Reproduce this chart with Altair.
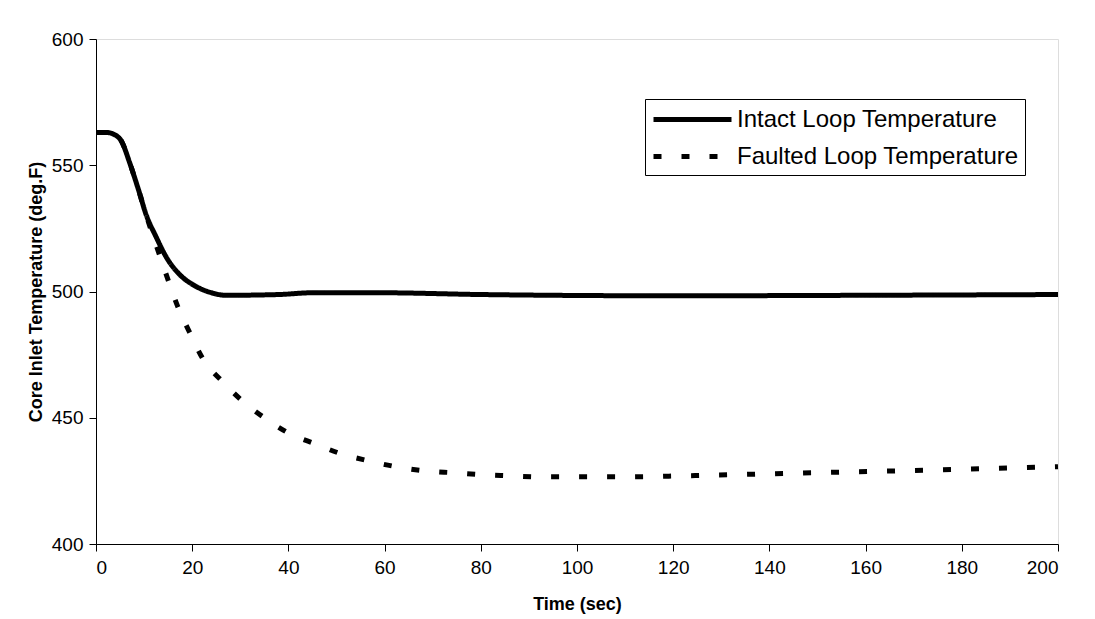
import altair as alt
import pandas as pd

# Intact loop (solid)
intact_time = [0, 2, 4, 5.3, 7, 8.8, 10.5, 12.4, 14.9, 17.4, 20.8, 24, 27, 38, 45, 59, 80, 120, 160, 200]
intact_temp = [563, 563, 562, 559.5, 551, 540.5, 530, 522, 512.7, 506.7, 502, 499.5, 498.5, 498.8, 499.5, 499.5, 498.8, 498.3, 498.5, 498.8]

# Faulted loop (dashed)
faulted_time = [0, 2, 4, 5.3, 7, 8.8, 10, 11.4, 13.2, 15, 17, 19.8, 22.2, 26.3, 30.4, 35, 40, 45.5, 51, 56.7,
                62.4, 68.3, 74.4, 80.4, 86, 92, 110, 122, 140, 158, 176, 200]
faulted_temp = [563, 563, 562, 559.5, 551, 540.5, 533, 524.6, 514.5, 504.5, 494, 482.5, 473.4, 464.3, 456.7, 450, 444, 439.7, 435.7, 432.9,
                430.6, 429, 428.2, 427.4, 427, 426.6, 426.6, 427, 427.8, 428.6, 429.4, 430.6]

series_names = ["Intact Loop Temperature", "Faulted Loop Temperature"]
x_ticks = [0, 20, 40, 60, 80, 100, 120, 140, 160, 180, 200]
y_ticks = [400, 450, 500, 550, 600]

rows = []
for t, v in zip(intact_time, intact_temp):
    rows.append({"time": t, "temp": v, "series": series_names[0]})
for t, v in zip(faulted_time, faulted_temp):
    rows.append({"time": t, "temp": v, "series": series_names[1]})
df = pd.DataFrame(rows)

FONT = "Liberation Sans"

axis_common = dict(grid=False, tickSize=7, labelFontSize=19, titleFontSize=18, titleFontWeight="bold",
                   domainColor="black", tickColor="black", labelColor="black", titleColor="black",
                   labelFont=FONT, titleFont=FONT)

chart = alt.Chart(df).mark_line(strokeWidth=5, color="black", interpolate="monotone").encode(
    x=alt.X("time:Q", scale=alt.Scale(domain=[0, 200], nice=False),
            axis=alt.Axis(values=x_ticks, title="Time (sec)", labelPadding=7, titlePadding=18, **axis_common)),
    y=alt.Y("temp:Q", scale=alt.Scale(domain=[400, 600], nice=False),
            axis=alt.Axis(values=y_ticks, title="Core Inlet Temperature (deg.F)", labelPadding=6,
                          titlePadding=6, **axis_common)),
    strokeDash=alt.StrokeDash("series:N",
                              scale=alt.Scale(domain=series_names, range=[[1, 0], [8, 20]]),
                              sort=series_names,
                              legend=alt.Legend(title=None, orient="none", legendX=549, legendY=60,
                                                symbolType="M-1,0H5.5", symbolSize=576, symbolStrokeWidth=5,
                                                symbolStrokeColor="black", labelFontSize=24, labelFont=FONT,
                                                labelColor="black", labelOffset=57, rowPadding=10,
                                                labelLimit=600,
                                                strokeColor="black", fillColor="white", padding=6,
                                                cornerRadius=0)),
    order=alt.Order("time:Q"),
).properties(
    width=962, height=505,
    autosize=alt.AutoSizeParams(type="none"),
    padding={"left": 96, "top": 39, "right": 37, "bottom": 75},
).configure_view(stroke="black", strokeWidth=1).configure(background="white")

chart.save("out.html", embed_options={"renderer": "svg", "actions": False})
